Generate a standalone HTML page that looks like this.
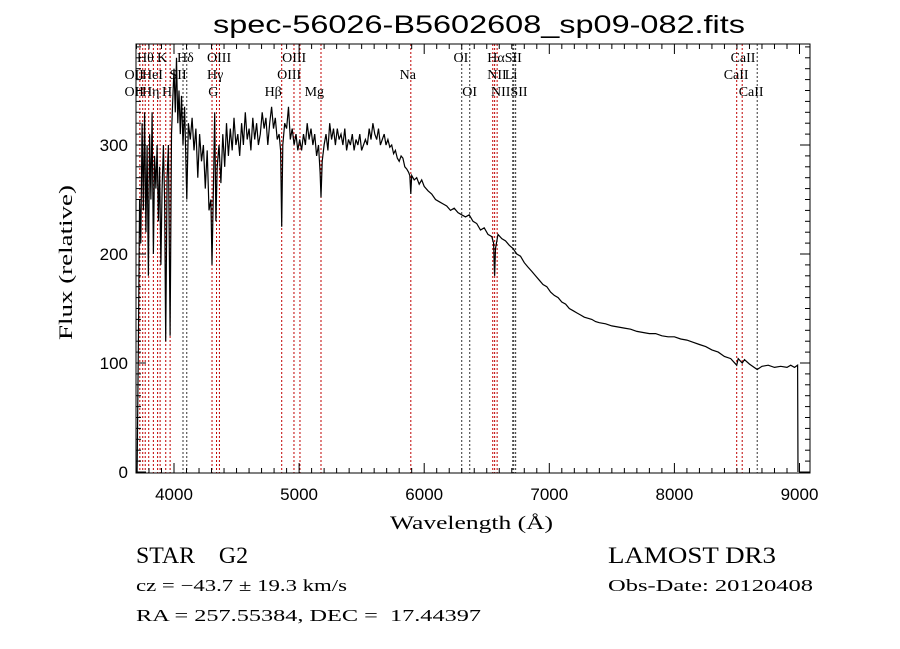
<!DOCTYPE html>
<html><head><meta charset="utf-8"><style>
body{margin:0;background:#fff;width:900px;height:649px;overflow:hidden}
svg{display:block}
text{white-space:pre}
.ser{font-family:"Liberation Serif",serif;fill:#000}
.san{font-family:"Liberation Sans",sans-serif;fill:#000}
</style></head><body>
<svg id="chart" width="900" height="649" viewBox="0 0 900 649" xml:space="preserve">
<text x="213" y="33" textLength="532" lengthAdjust="spacingAndGlyphs" class="san" font-size="25">spec-56026-B5602608_sp09-082.fits</text>
<g id="lines"></g>
<g id="labels"></g>
<g id="spec"></g>
<g id="axes"></g>
<text x="390" y="529" textLength="163" lengthAdjust="spacingAndGlyphs" class="ser" font-size="19">Wavelength (Å)</text>
<text transform="translate(72,340) rotate(-90)" textLength="155" lengthAdjust="spacingAndGlyphs" class="ser" font-size="19">Flux (relative)</text>
<text x="136" y="563" textLength="112" lengthAdjust="spacingAndGlyphs" class="ser" font-size="23">STAR    G2</text>
<text x="136" y="591" textLength="211" lengthAdjust="spacingAndGlyphs" class="ser" font-size="17">cz = −43.7 ± 19.3 km/s</text>
<text x="136" y="621" textLength="345" lengthAdjust="spacingAndGlyphs" class="ser" font-size="17">RA = 257.55384, DEC =  17.44397</text>
<text x="608" y="563" textLength="168" lengthAdjust="spacingAndGlyphs" class="ser" font-size="23">LAMOST DR3</text>
<text x="608" y="591" textLength="205" lengthAdjust="spacingAndGlyphs" class="ser" font-size="17">Obs-Date: 20120408</text>
</svg>
<script>
const wave=[3705,3715,3725,3735,3745,3755,3765,3775,3785,3795,3805,3815,3825,3835,3845,3855,3865,3875,3885,3895,3905,3915,3925,3934,3945,3955,3969,3980,3990,4000,4010,4020,4030,4040,4050,4060,4072,4085,4102,4115,4130,4145,4160,4175,4190,4205,4220,4235,4250,4265,4280,4295,4304,4315,4325,4335,4345,4360,4375,4390,4405,4420,4435,4450,4465,4480,4495,4510,4525,4540,4555,4570,4585,4600,4615,4630,4645,4660,4675,4690,4705,4720,4735,4750,4765,4780,4795,4810,4825,4840,4852,4861,4870,4885,4900,4915,4930,4945,4960,4975,4990,5005,5020,5035,5050,5065,5080,5095,5110,5125,5140,5155,5168,5175,5185,5200,5215,5230,5245,5260,5275,5290,5305,5320,5335,5350,5365,5380,5395,5410,5425,5440,5455,5470,5485,5500,5515,5530,5545,5560,5575,5590,5605,5620,5635,5650,5665,5680,5695,5710,5725,5740,5755,5770,5785,5800,5815,5830,5845,5860,5875,5885,5893,5900,5920,5940,5960,5980,6000,6030,6060,6090,6120,6150,6180,6210,6240,6270,6300,6330,6360,6390,6420,6450,6480,6510,6540,6555,6563,6570,6590,6620,6650,6680,6710,6740,6770,6800,6830,6860,6890,6920,6950,6980,7010,7040,7070,7100,7130,7160,7190,7220,7250,7280,7310,7340,7370,7400,7450,7500,7550,7600,7650,7700,7750,7800,7850,7900,7950,8000,8050,8100,8150,8200,8250,8300,8350,8400,8450,8498,8510,8542,8560,8600,8662,8700,8750,8800,8850,8900,8930,8960,8985,8988];
const flux=[0,110,250,210,320,240,330,220,300,180,310,250,330,200,290,260,300,230,280,190,260,300,250,120,270,300,125,310,340,370,330,380,320,350,310,345,300,335,250,320,305,325,295,315,270,310,285,300,260,295,240,250,190,260,330,230,280,300,265,310,280,320,290,315,295,325,300,310,290,320,300,330,305,315,295,325,305,320,300,310,330,315,325,300,320,335,315,325,305,310,295,225,300,320,315,335,305,315,300,310,295,305,295,310,300,320,305,315,300,310,290,300,275,252,285,300,310,295,320,305,315,300,315,305,310,300,315,295,305,300,310,295,305,300,310,295,300,305,300,315,305,320,310,305,315,300,305,310,300,305,298,300,292,295,288,285,290,288,280,278,275,272,255,272,268,270,264,268,262,258,255,250,248,246,244,240,242,238,236,234,236,230,228,222,224,218,216,210,180,205,218,214,212,208,205,200,198,192,188,184,180,176,172,170,165,162,160,156,154,150,148,146,144,142,141,140,138,137,136,134,133,132,131,129,128,127,127,125,124,124,122,121,119,117,115,112,110,106,104,98,104,100,103,99,94,97,98,96,97,96,98,96,98,0];
const lineWaves=[3727,3750,3770,3798,3835,3869,3889,3934,3969,4072,4102,4304,4340,4363,4861,4959,5007,5175,5893,6300,6364,6548,6563,6583,6708,6716,6731,8498,8542,8662];
const lineBlack=[0,0,0,0,0,0,0,0,0,1,1,0,0,0,0,0,0,0,0,1,1,0,0,0,1,1,1,0,0,1];
const labelText=["Hθ","K","Hδ","OIII","OIII","OI","HαSII","CaII","OII","HeI","SII","Hγ","OIII","Na","NII","Li","CaII","OII","Hη","H","G","Hβ","Mg","OI","NIISII","CaII"];
const labelWave=[3760,3920,4080,4320,4920,6290,6560,8505,3660,3800,4020,4320,4880,5860,6560,6700,8450,3660,3800,3960,4330,4780,5100,6360,6590,8570];
const labelRow=[0,0,0,0,0,0,0,0,1,1,1,1,1,1,1,1,1,2,2,2,2,2,2,2,2,2];
const xTicks=[4000,5000,6000,7000,8000,9000];
const yTicks=[0,100,200,300];

const L=136,R=810,T=44,B=473;
const x=w=>174+(w-4000)*0.1251;
const y=v=>472-v*1.09;
const NS="http://www.w3.org/2000/svg";
function mk(tag,attrs,parent){const e=document.createElementNS(NS,tag);for(const k in attrs)e.setAttribute(k,attrs[k]);parent.appendChild(e);return e;}
const gL=document.getElementById('lines'),gLab=document.getElementById('labels'),gS=document.getElementById('spec'),gA=document.getElementById('axes');
lineWaves.forEach((w,i)=>{
  const ln=mk('line',{x1:x(w),x2:x(w),y1:T,y2:B,stroke:lineBlack[i]?'#333':'#c00000','stroke-width':1,'stroke-dasharray':'2,2'},gL);
  
  
});
labelText.forEach((t,i)=>{
  const tx=mk('text',{x:x(labelWave[i])-7,y:62+labelRow[i]*17,class:'ser','font-size':14},gLab);
  tx.textContent=t;
  
  
});
const pts=wave.map((w,i)=>x(w).toFixed(1)+','+y(flux[i]).toFixed(1)).join(' ');
const pl=mk('polyline',{points:pts,fill:'none',stroke:'#000','stroke-width':1.2},gS);


const fr=mk('rect',{x:L,y:T,width:R-L,height:B-T,fill:'none',stroke:'#000','stroke-width':1},gA);


for(let w=3700;w<=9080;w+=100){const X=x(w);const maj=w%1000===0;const len=maj?10:5;
  mk('line',{x1:X,x2:X,y1:B,y2:B-len,stroke:'#000'},gA);mk('line',{x1:X,x2:X,y1:T,y2:T+len,stroke:'#000'},gA);}
for(let v=0;v<=390;v+=10){const Y=y(v);if(Y<T)continue;const maj=v%100===0;const len=maj?10:5;
  mk('line',{x1:L,x2:L+len,y1:Y,y2:Y,stroke:'#000'},gA);mk('line',{x1:R,x2:R-len,y1:Y,y2:Y,stroke:'#000'},gA);}
xTicks.forEach(t=>{const tx=mk('text',{x:x(t),y:500,'text-anchor':'middle',class:'san','font-size':17},gA);tx.textContent=t;
  
  });
yTicks.forEach(t=>{const tx=mk('text',{x:128,y:y(t)+6,'text-anchor':'end',class:'san','font-size':17},gA);tx.textContent=t;
  
  });
</script>
</body></html>
